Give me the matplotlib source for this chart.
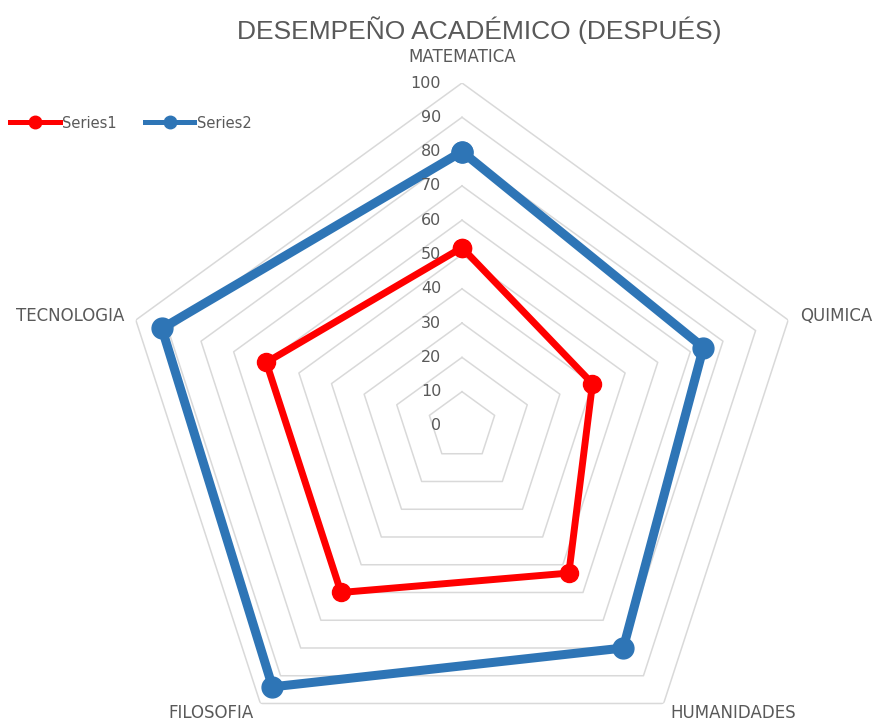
import numpy as np
import matplotlib
matplotlib.use('Agg')
import matplotlib.pyplot as plt
from matplotlib.lines import Line2D
from matplotlib import transforms

# Datos
categorias = ['MATEMATICA', 'QUIMICA', 'HUMANIDADES', 'FILOSOFIA', 'TECNOLOGIA']
series1 = [52, 40, 53, 60, 60]
series2 = [80, 74, 80, 94, 92]
niveles = [0, 10, 20, 30, 40, 50, 60, 70, 80, 90, 100]
titulo = 'DESEMPEÑO ACADÉMICO (DESPUÉS)'

gris = '#595959'
rojo = '#FF0000'
azul = '#2E75B6'
plt.rcParams['font.family'] = ['DejaVu Sans']

fig = plt.figure(figsize=(8.79, 7.21), dpi=100)
# centro del radar en (462, 426) px, radio 343 px
ax = fig.add_axes([119 / 879, (295 - 343) / 721, 686 / 879, 686 / 721], projection='polar')
ax.set_theta_offset(np.pi / 2)
ax.set_theta_direction(-1)
ax.set_ylim(0, 100)
ax.grid(False)
ax.spines['polar'].set_visible(False)
ax.set_xticks([])
ax.set_yticks([])
ax.patch.set_alpha(0)

angulos = np.linspace(0, 2 * np.pi, len(categorias), endpoint=False)
ang_cerrado = np.append(angulos, angulos[0])

# rejilla pentagonal
for n in niveles[1:]:
    ax.plot(ang_cerrado, [n] * len(ang_cerrado), color='#D9D9D9', lw=1.1, zorder=1)

# etiquetas del eje radial
off = transforms.offset_copy(ax.transData, fig=fig, x=-15, y=0, units='points')
for n in niveles:
    ax.text(0, n, str(n), transform=off, ha='right', va='center',
            fontsize=11.5, color=gris)

# series
s1 = np.append(series1, series1[0])
s2 = np.append(series2, series2[0])
ax.plot(ang_cerrado, s1, color=rojo, lw=5, marker='o', markersize=13, zorder=3,
        solid_joinstyle='round')
ax.plot(ang_cerrado, s2, color=azul, lw=6.5, marker='o', markersize=15, zorder=2,
        solid_joinstyle='round')

# etiquetas de categorias
fs = 12
ax.text(angulos[0], 107.6, categorias[0], ha='center', va='center', fontsize=fs, color=gris)
ax.text(angulos[1], 103.5, categorias[1], ha='left', va='center', fontsize=fs, color=gris)
ax.text(angulos[2], 103.5, categorias[2], ha='left', va='center', fontsize=fs, color=gris)
ax.text(angulos[3], 103.5, categorias[3], ha='right', va='center', fontsize=fs, color=gris)
ax.text(angulos[4], 103.5, categorias[4], ha='right', va='center', fontsize=fs, color=gris)

fig.text(479 / 879, 1 - 30 / 721, titulo, ha='center', va='center', fontsize=19,
         color=gris, family='Liberation Sans')

handles = [Line2D([], [], color=rojo, lw=3.6, marker='o', markersize=9),
           Line2D([], [], color=azul, lw=3.6, marker='o', markersize=9)]
fig.legend(handles, ['Series1', 'Series2'], loc='center left',
           bbox_to_anchor=(10 / 879, 1 - 123 / 721), ncol=2, frameon=False,
           fontsize=10.5, labelcolor=gris, handlelength=3.4, handletextpad=0.2,
           columnspacing=1.9, borderpad=0, borderaxespad=0)

plt.savefig('out.png', dpi=100)
